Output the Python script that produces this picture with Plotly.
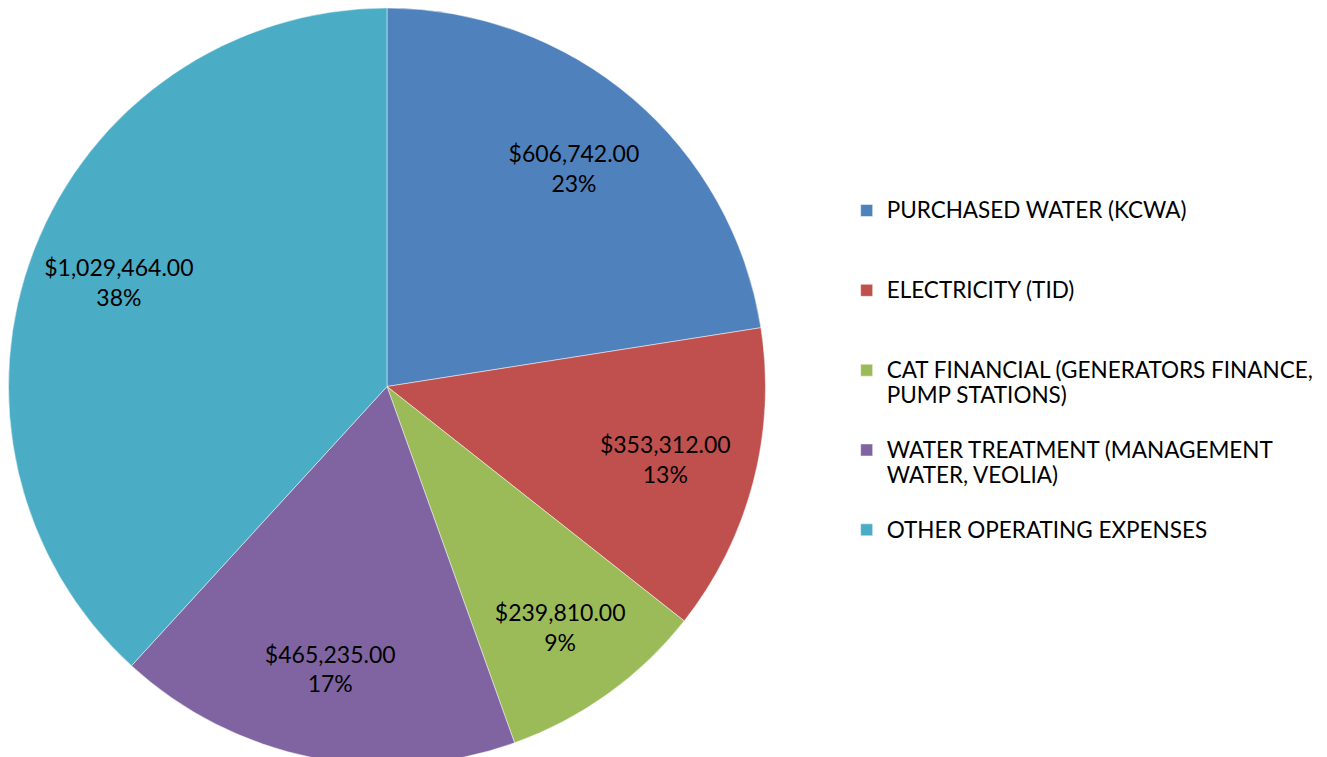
import plotly.graph_objects as go

labels = [
    "PURCHASED WATER (KCWA)",
    "ELECTRICITY (TID)",
    "CAT FINANCIAL (GENERATORS FINANCE,<br>PUMP STATIONS)",
    "WATER TREATMENT (MANAGEMENT<br>WATER, VEOLIA)",
    "OTHER OPERATING EXPENSES",
]
values = [606742.00, 353312.00, 239810.00, 465235.00, 1029464.00]
colors = ["#4F81BD", "#C0504D", "#9BBB59", "#8064A2", "#4BACC6"]

FONT = "Lato"

# legend text drawn at 22.5px; entries padded to three lines so they are evenly spaced
legend_labels = []
for lab in labels:
    lines = lab.split("<br>")
    styled = ["<span style='font-size:22.5px'>" + ln + "</span>" for ln in lines]
    styled += [" "] * (3 - len(lines))
    legend_labels.append("<br>".join(styled))

dom = dict(x=[0, 758 / 1327], y=[0, 1])

fig = go.Figure()
fig.add_trace(
    go.Pie(
        labels=legend_labels,
        values=values,
        sort=False,
        direction="clockwise",
        rotation=0,
        marker=dict(colors=colors, line=dict(color="rgba(255,255,255,0.6)", width=0.8)),
        textinfo="none",
        domain=dom,
        hoverinfo="value+percent",
        showlegend=True,
    )
)
# transparent ring carrying the data labels, so they sit out toward the rim as in the original
fig.add_trace(
    go.Pie(
        labels=legend_labels,
        values=values,
        sort=False,
        direction="clockwise",
        rotation=0,
        hole=0.52,
        marker=dict(colors=["rgba(0,0,0,0)"] * len(values), line=dict(width=0)),
        texttemplate="%{value:$,.2f}<br>%{percent:.0%}",
        textposition="inside",
        insidetextorientation="horizontal",
        textfont=dict(family=FONT, size=23, color="#000000"),
        domain=dom,
        hoverinfo="skip",
        showlegend=False,
    )
)

fig.update_layout(
    width=1327,
    height=757,
    margin=dict(l=0, r=0, t=0, b=0),
    paper_bgcolor="white",
    plot_bgcolor="white",
    font=dict(family=FONT, size=20, color="#000000"),
    legend=dict(
        x=0.632,
        xanchor="left",
        y=0.758,
        yanchor="top",
        valign="top",
        font=dict(family=FONT, size=19.7, color="#000000"),
        itemwidth=30,
        bgcolor="rgba(0,0,0,0)",
    ),
    uniformtext=dict(minsize=23, mode="show"),
)

fig.write_html("out.html")
